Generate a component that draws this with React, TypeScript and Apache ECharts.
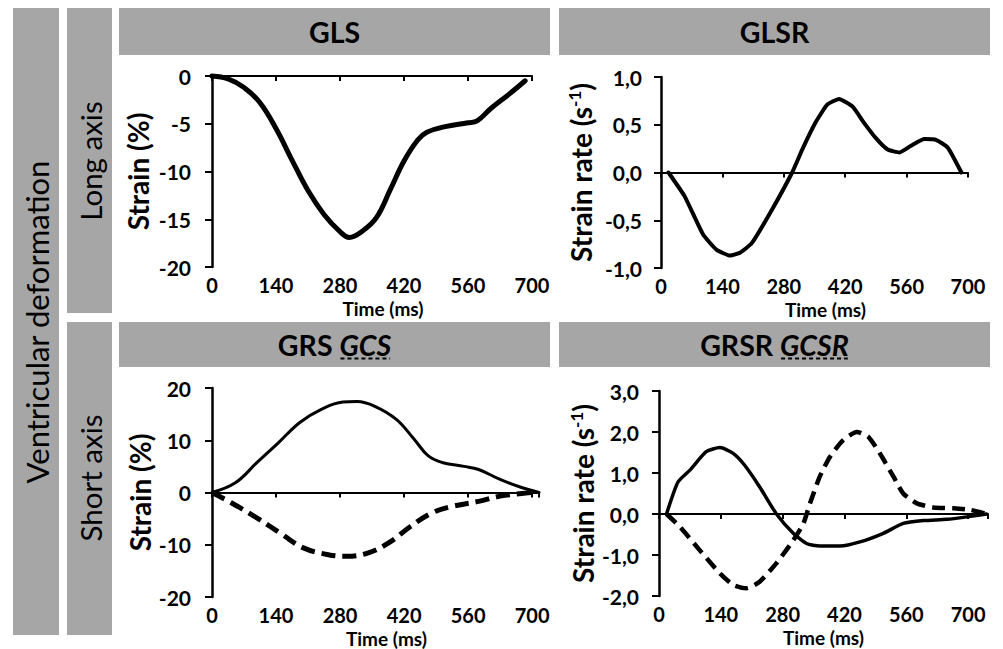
import React, { useEffect, useRef } from 'react';
import * as echarts from 'echarts';

// ---------- data ----------
const timeTicks = [0, 140, 280, 420, 560, 700];

const glsTime = [0, 35, 70, 105, 140, 175, 210, 245, 280, 300, 330, 360, 390, 420, 450, 470, 510, 560, 580, 610, 650, 685];
const glsValue = [0, -0.3, -1.2, -2.8, -5.5, -8.8, -12.0, -14.5, -16.3, -16.9, -16.2, -14.8, -11.9, -8.9, -6.7, -5.9, -5.3, -4.9, -4.7, -3.4, -1.9, -0.5];

const glsrTime = [17, 54, 96, 127, 158, 180, 207, 253, 299, 322, 352, 379, 406, 437, 463, 490, 517, 544, 570, 601, 628, 654, 685];
const glsrValue = [0, -0.25, -0.65, -0.81, -0.87, -0.84, -0.74, -0.39, 0, 0.24, 0.52, 0.71, 0.77, 0.69, 0.52, 0.36, 0.24, 0.21, 0.28, 0.35, 0.34, 0.26, 0];

const grsTime = [0, 51, 98, 145, 192, 239, 286, 317, 356, 403, 442, 473, 505, 551, 583, 630, 669, 715];
const grsValue = [0, 1.85, 5.7, 9.5, 13.4, 15.9, 17.3, 17.4, 16.5, 14.0, 10.2, 7.0, 5.7, 5.0, 4.4, 2.5, 1.2, 0];

const gcsTime = [0, 43, 98, 153, 200, 254, 293, 340, 387, 434, 481, 528, 583, 630, 677, 700];
const gcsValue = [0, -2.0, -4.85, -8.0, -10.6, -11.9, -12.2, -11.6, -9.6, -6.5, -3.9, -2.6, -1.7, -0.7, -0.2, 0];

const grsrTime = [17, 43, 70, 107, 138, 168, 194, 228, 266, 304, 334, 364, 410, 455, 508, 553, 599, 652, 697, 742];
const grsrValue = [0, 0.78, 1.07, 1.52, 1.62, 1.48, 1.19, 0.66, 0, -0.47, -0.72, -0.78, -0.78, -0.68, -0.47, -0.23, -0.16, -0.13, -0.07, 0];

const gcsrTime = [17, 47, 92, 138, 168, 198, 228, 266, 304, 327, 342, 364, 387, 417, 448, 474, 500, 531, 553, 584, 621, 667, 705, 742];
const gcsrValue = [0, -0.31, -0.88, -1.45, -1.73, -1.81, -1.65, -1.2, -0.64, -0.23, 0.26, 0.91, 1.39, 1.8, 2.0, 1.88, 1.48, 0.91, 0.5, 0.26, 0.16, 0.14, 0.1, 0];

const panelTitles = ['GLS', 'GLSR', 'GRS', 'GRSR'];
const panelItalic = ['', '', 'GCS', 'GCSR'];
const rowLabels = ['Long axis', 'Short axis'];
const sideLabel = 'Ventricular deformation';

// ---------- styling ----------
const FONT = 'Lato, "Noto Sans", sans-serif';
const GRAY = '#a6a6a6';
const INK = '#000';

const zip = (t: number[], v: number[]) => t.map((x, i) => [x, v[i]]);

function measure(text: string, font: string): number {
  const c = document.createElement('canvas').getContext('2d');
  if (!c) return text.length * 14;
  c.font = font;
  return c.measureText(text).width;
}

const comma = (v: number) => v.toFixed(1).replace('.', ',');

function buildOption() {
  const grids = [
    { left: 212, top: 76, width: 320, height: 191 },
    { left: 661, top: 77, width: 307, height: 191 },
    { left: 212, top: 388, width: 327, height: 209 },
    { left: 659, top: 391, width: 329, height: 205 },
  ];
  const xMax = [700, 700, 715, 745];
  const yCfg = [
    { min: -20, max: 0, interval: 5, fmt: (v: number) => String(v), name: 'Strain (%)', gap: 59 },
    { min: -1, max: 1, interval: 0.5, fmt: comma, name: 'Strain rate (s{sup|-1})', gap: 65 },
    { min: -20, max: 20, interval: 10, fmt: (v: number) => String(v), name: 'Strain (%)', gap: 53 },
    { min: -2, max: 3, interval: 1, fmt: comma, name: 'Strain rate (s{sup|-1})', gap: 61 },
  ];
  const labelMargin = [21, 19, 21, 20];

  const xAxis: any[] = [];
  grids.forEach((_, i) => {
    xAxis.push({
      type: 'value',
      gridIndex: i,
      min: 0,
      max: xMax[i],
      interval: 140,
      position: 'bottom',
      axisLine: { show: false, onZero: false },
      axisTick: { show: false },
      splitLine: { show: false },
      axisLabel: {
        color: INK,
        fontFamily: FONT,
        fontWeight: 'bold',
        fontSize: 20,
        margin: 8,
        formatter: (v: number) => (timeTicks.indexOf(v) >= 0 ? String(v) : ''),
      },
      name: 'Time (ms)',
      nameLocation: 'middle',
      nameGap: 32,
      nameTextStyle: {
        color: INK,
        fontFamily: FONT,
        fontWeight: 'bold',
        fontSize: 19,
        lineHeight: 19,
        padding: i === 3 ? [0, 0, 0, 0] : [0, 0, 0, 22],
      },
    });
    xAxis.push({
      type: 'value',
      gridIndex: i,
      min: 0,
      max: xMax[i],
      interval: 140,
      position: 'top',
      axisLine: { show: true, onZero: true, lineStyle: { color: INK, width: 2 } },
      axisTick: { show: true, inside: true, length: 5, lineStyle: { color: INK, width: 2 } },
      axisLabel: { show: false },
      splitLine: { show: false },
    });
  });

  const yAxis = grids.map((_, i) => ({
    type: 'value',
    gridIndex: i,
    min: yCfg[i].min,
    max: yCfg[i].max,
    interval: yCfg[i].interval,
    axisLine: { show: true, onZero: false, lineStyle: { color: INK, width: 2.5 } },
    axisTick: { show: true, length: 7, lineStyle: { color: INK, width: 2 } },
    splitLine: { show: false },
    axisLabel: {
      color: INK,
      fontFamily: FONT,
      fontWeight: 'bold',
      fontSize: 21,
      margin: labelMargin[i],
      formatter: yCfg[i].fmt,
    },
    name: yCfg[i].name,
    nameLocation: 'middle',
    nameGap: yCfg[i].gap,
    nameTextStyle: {
      color: INK,
      fontFamily: FONT,
      fontWeight: 'bold',
      fontSize: 28,
      lineHeight: 30,
      rich: {
        sup: { fontFamily: FONT, fontWeight: 'bold', fontSize: 17, lineHeight: 30, verticalAlign: 'top', color: INK, padding: [0, 0, 10, 0] },
      },
    },
  }));

  const line = (idx: number, data: number[][], width: number, smooth: number, dash?: number[]) => ({
    type: 'line',
    xAxisIndex: idx * 2,
    yAxisIndex: idx,
    data,
    showSymbol: false,
    symbol: 'none',
    smooth,
    clip: false,
    lineStyle: { color: INK, width, type: dash ? dash : 'solid', cap: dash ? 'butt' : 'round', join: 'round' },
  });

  const series = [
    line(0, zip(glsTime, glsValue), 5, 0.4),
    line(1, zip(glsrTime, glsrValue), 4, 0.15),
    line(2, zip(grsTime, grsValue), 3, 0.4),
    line(2, zip(gcsTime, gcsValue), 5, 0.4, [14, 7]),
    line(3, zip(grsrTime, grsrValue), 3.5, 0.2),
    line(3, zip(gcsrTime, gcsrValue), 4.5, 0.2, [13, 7]),
  ];

  // ---------- frame graphics ----------
  const HS = 28.5;
  const headerBoxes = [
    { x: 119, y: 8, w: 431, h: 47 },
    { x: 559, y: 8, w: 431, h: 47 },
    { x: 119, y: 322, w: 431, h: 45 },
    { x: 559, y: 322, w: 431, h: 45 },
  ];
  const graphic: any[] = [];
  graphic.push({ type: 'rect', shape: { x: 13, y: 8, width: 46, height: 627 }, style: { fill: GRAY } });
  graphic.push({ type: 'rect', shape: { x: 67, y: 8, width: 45, height: 305 }, style: { fill: GRAY } });
  graphic.push({ type: 'rect', shape: { x: 67, y: 322, width: 45, height: 313 }, style: { fill: GRAY } });
  graphic.push({
    type: 'text', x: 37, y: 322, rotation: Math.PI / 2,
    style: { text: sideLabel, font: `31px ${FONT}`, fill: INK, textAlign: 'center', textVerticalAlign: 'middle' },
  });
  graphic.push({
    type: 'text', x: 90, y: 161, rotation: Math.PI / 2,
    style: { text: rowLabels[0], font: `29.5px ${FONT}`, fill: INK, textAlign: 'center', textVerticalAlign: 'middle' },
  });
  graphic.push({
    type: 'text', x: 90, y: 478, rotation: Math.PI / 2,
    style: { text: rowLabels[1], font: `29.5px ${FONT}`, fill: INK, textAlign: 'center', textVerticalAlign: 'middle' },
  });

  headerBoxes.forEach((b, i) => {
    graphic.push({ type: 'rect', shape: { x: b.x, y: b.y, width: b.w, height: b.h }, style: { fill: GRAY } });
    const cx = b.x + b.w / 2;
    const cy = b.y + b.h / 2;
    const fPlain = `bold ${HS}px ${FONT}`;
    const fItal = `italic bold ${HS}px ${FONT}`;
    if (!panelItalic[i]) {
      graphic.push({
        type: 'text', x: cx, y: cy,
        style: { text: panelTitles[i], font: fPlain, fill: INK, textAlign: 'center', textVerticalAlign: 'middle' },
      });
    } else {
      const w1 = measure(panelTitles[i] + ' ', fPlain);
      const w2 = measure(panelItalic[i], fItal);
      const start = cx - (w1 + w2) / 2;
      graphic.push({
        type: 'text', x: start, y: cy,
        style: { text: panelTitles[i] + ' ', font: fPlain, fill: INK, textAlign: 'left', textVerticalAlign: 'middle' },
      });
      graphic.push({
        type: 'text', x: start + w1, y: cy,
        style: { text: panelItalic[i], font: fItal, fill: INK, textAlign: 'left', textVerticalAlign: 'middle' },
      });
      graphic.push({
        type: 'line',
        shape: { x1: start + w1 + 1, y1: cy + 14, x2: start + w1 + w2 - 1, y2: cy + 14 },
        style: { stroke: INK, lineWidth: 2, lineDash: [4, 3] },
      });
    }
  });

  return {
    animation: false,
    backgroundColor: '#ffffff',
    textStyle: { fontFamily: FONT },
    grid: grids.map((g) => ({ ...g, containLabel: false })),
    xAxis,
    yAxis,
    series,
    graphic,
  };
}

export default function App() {
  const ref = useRef<HTMLDivElement>(null);
  useEffect(() => {
    document.body.style.margin = '0';
    if (!ref.current) return;
    const chart = echarts.init(ref.current, null, { renderer: 'svg' });
    chart.setOption(buildOption() as any);
    return () => chart.dispose();
  }, []);
  return <div ref={ref} style={{ width: 1003, height: 649, background: '#fff' }} />;
}
